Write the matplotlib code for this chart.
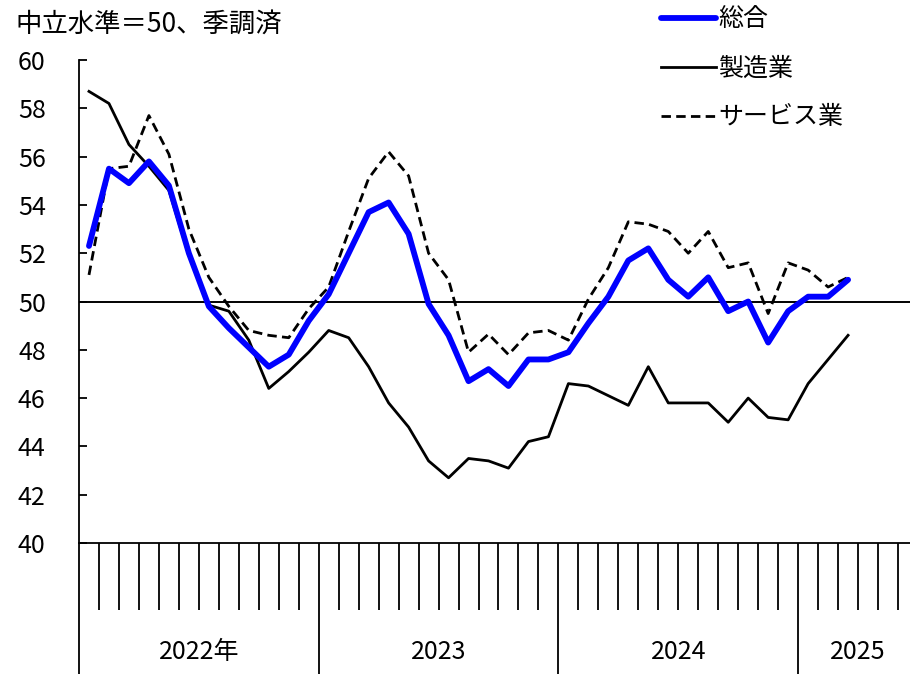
import matplotlib
matplotlib.use('Agg')
import matplotlib.pyplot as plt
import numpy as np

plt.rcParams['font.family'] = ['Noto Sans CJK JP', 'DejaVu Sans']

# --- datos: enero 2022 - marzo 2025 (mensual) ---
sogo = [52.3, 55.5, 54.9, 55.8, 54.8, 52.0, 49.8, 48.9, 48.1, 47.3, 47.8, 49.2,
        50.3, 52.0, 53.7, 54.1, 52.8, 49.9, 48.6, 46.7, 47.2, 46.5, 47.6, 47.6,
        47.9, 49.1, 50.2, 51.7, 52.2, 50.9, 50.2, 51.0, 49.6, 50.0, 48.3, 49.6,
        50.2, 50.2, 50.9]
seizo = [58.7, 58.2, 56.5, 55.6, 54.6, 51.9, 49.85, 49.6, 48.4, 46.4, 47.1, 47.9,
         48.8, 48.5, 47.3, 45.8, 44.8, 43.4, 42.7, 43.5, 43.4, 43.1, 44.2, 44.4,
         46.6, 46.5, 46.1, 45.7, 47.3, 45.8, 45.8, 45.8, 45.0, 46.0, 45.2, 45.1,
         46.6, 47.6, 48.6]
service = [51.1, 55.5, 55.6, 57.7, 56.1, 53.0, 51.0, 49.8, 48.8, 48.6, 48.5, 49.7,
           50.6, 52.9, 55.1, 56.2, 55.2, 52.0, 50.9, 47.9, 48.65, 47.8, 48.7, 48.8,
           48.4, 50.1, 51.4, 53.3, 53.2, 52.9, 52.0, 52.9, 51.4, 51.6, 49.5, 51.6,
           51.3, 50.6, 51.0]
years = ['2022年', '2023', '2024', '2025']
months_per_year = [12, 12, 12, 6]

x = np.arange(len(sogo))

fig = plt.figure(figsize=(9.1, 6.74), dpi=100)
ax = fig.add_axes([79/910, (674-543)/674, 1 - 79/910, (543-60)/674])

ax.axhline(50, color='black', linewidth=1.4, zorder=1)
ax.plot(x, sogo, color='#0000FF', linewidth=4.2, label='総合', zorder=3,
        solid_capstyle='round')
ax.plot(x, seizo, color='black', linewidth=2.0, label='製造業', zorder=2)
ax.plot(x, service, color='black', linewidth=2.0, linestyle=(0, (3.4, 1.9)),
        label='サービス業', zorder=2)

ax.set_ylim(40, 60)
ax.set_yticks(np.arange(40, 61, 2))
ax.set_xlim(-0.5, 41.1)

for s in ['top', 'right']:
    ax.spines[s].set_visible(False)
ax.spines['left'].set_linewidth(1.3)
ax.spines['bottom'].set_linewidth(1.3)

ax.tick_params(axis='y', direction='in', length=6, width=1.3, pad=24,
               labelsize=18)

# bordes de meses y años
bounds = np.arange(-0.5, 41.5, 1.0)
year_b = np.cumsum([0] + months_per_year) - 0.5
ax.set_xticks(year_b[:-1])
ax.set_xticks([b for b in bounds if b not in year_b], minor=True)
ax.tick_params(axis='x', which='major', direction='out', length=95, width=1.3,
               labelbottom=False)
ax.tick_params(axis='x', which='minor', direction='out', length=48, width=1.3)

start = -0.5
for yl, n in zip(years, months_per_year):
    ax.text(start + n / 2, -0.225, yl, transform=ax.get_xaxis_transform(),
            ha='center', va='center', fontsize=18)
    start += n

fig.text(15/910, 1 - 24/674, '中立水準＝50、季調済', fontsize=19,
         ha='left', va='center')

ax.legend(loc='upper left', bbox_to_anchor=(638/910, 1 + 16/674),
          bbox_transform=fig.transFigure, frameon=False, fontsize=18,
          handlelength=2.2, handletextpad=0.12, labelspacing=0.92)

fig.savefig('out.png', dpi=100)
